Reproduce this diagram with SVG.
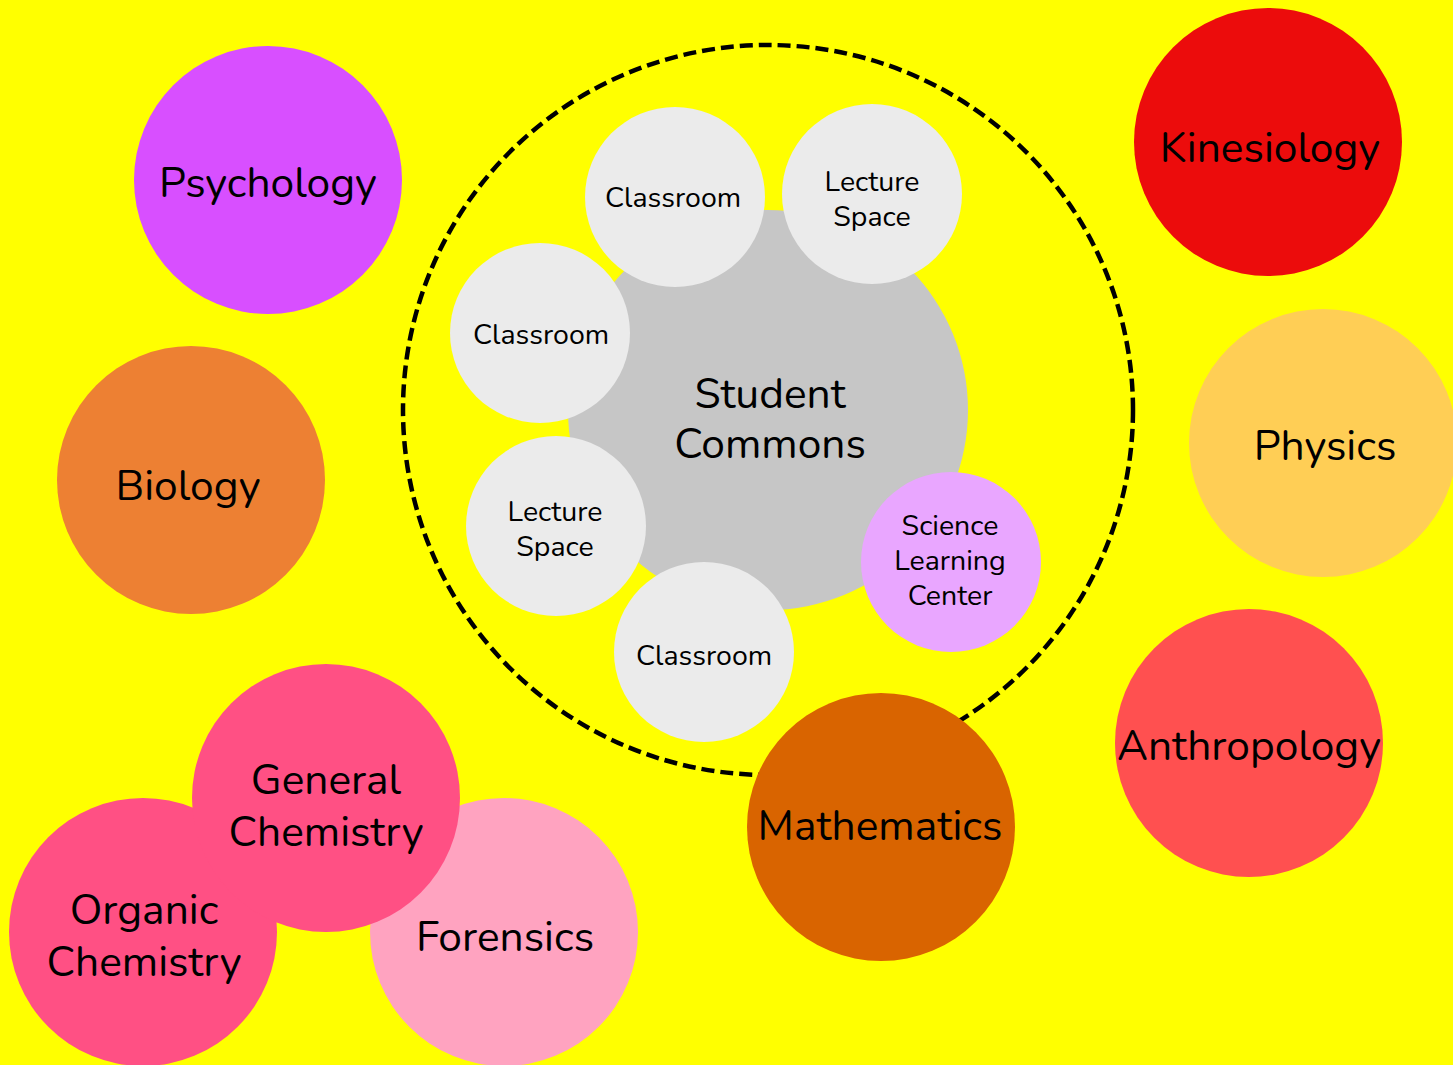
<svg xmlns="http://www.w3.org/2000/svg" width="1453" height="1065" viewBox="0 0 1453 1065">
<style>
text{font-family:"Nunito","Lato","Noto Sans",sans-serif;fill:#000;text-anchor:middle;dominant-baseline:central}
.big{font-size:42.5px}
.sm{font-size:28.5px}
.room{fill:#EBEBEB}
</style>
<rect width="1453" height="1065" fill="#FFFF00"/>
<g id="boundary"><circle cx="768" cy="410" r="365" fill="none" stroke="#000" stroke-width="4.5" stroke-dasharray="13 6"/></g>
<g id="student-commons"><circle cx="768" cy="410" r="200" fill="#C6C6C6"/><text class="big" x="770" y="394">Student</text><text class="big" x="770" y="444">Commons</text></g>
<g id="classroom-top"><circle class="room" cx="675" cy="197" r="90"/><text class="sm" x="673" y="197">Classroom</text></g>
<g id="lecture-top"><circle class="room" cx="872" cy="194" r="90"/><text class="sm" x="872" y="181">Lecture</text><text class="sm" x="872" y="216">Space</text></g>
<g id="classroom-left"><circle class="room" cx="540" cy="333" r="90"/><text class="sm" x="541" y="334">Classroom</text></g>
<g id="lecture-left"><circle class="room" cx="556" cy="526" r="90"/><text class="sm" x="555" y="511">Lecture</text><text class="sm" x="555" y="546">Space</text></g>
<g id="classroom-bottom"><circle class="room" cx="704" cy="652" r="90"/><text class="sm" x="704" y="655">Classroom</text></g>
<g id="science-learning-center"><circle cx="951" cy="562" r="90" fill="#E9A6FF"/><text class="sm" x="950" y="525">Science</text><text class="sm" x="950" y="560">Learning</text><text class="sm" x="950" y="595">Center</text></g>
<g id="psychology"><circle cx="268" cy="180" r="134" fill="#D84FFF"/><text class="big" x="268" y="183">Psychology</text></g>
<g id="kinesiology"><circle cx="1268" cy="142" r="134" fill="#EC0C0C"/><text class="big" x="1270" y="148">Kinesiology</text></g>
<g id="physics"><circle cx="1323" cy="443" r="134" fill="#FFCE55"/><text class="big" x="1325" y="446">Physics</text></g>
<g id="biology"><circle cx="191" cy="480" r="134" fill="#ED8033"/><text class="big" x="188" y="486">Biology</text></g>
<g id="anthropology"><circle cx="1249" cy="743" r="134" fill="#FF5050"/><text class="big" x="1249" y="746">Anthropology</text></g>
<g id="mathematics"><circle cx="881" cy="827" r="134" fill="#D96400"/><text class="big" x="880" y="826">Mathematics</text></g>
<g id="forensics"><circle cx="504" cy="932" r="134" fill="#FFA3C0"/><text class="big" x="505" y="937">Forensics</text></g>
<g id="organic-chemistry"><circle cx="143" cy="932" r="134" fill="#FF5084"/><text class="big" x="144" y="910">Organic</text><text class="big" x="144" y="962">Chemistry</text></g>
<g id="general-chemistry"><circle cx="326" cy="798" r="134" fill="#FF5084"/><text class="big" x="326" y="780">General</text><text class="big" x="326" y="832">Chemistry</text></g>
<g id="connectors"></g>
</svg>
